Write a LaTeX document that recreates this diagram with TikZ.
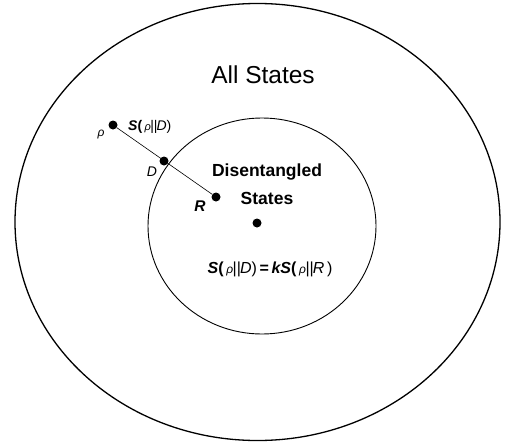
\documentclass[tikz,border=0pt]{standalone}
\usepackage{fontspec}
\setmainfont{Liberation Sans}
\usetikzlibrary{shapes.geometric, positioning}

\begin{document}
\begin{tikzpicture}[x=1pt, y=-1pt,
  dot/.style={circle, fill=black, inner sep=0pt, minimum size=9pt},
  setline/.style={draw, ellipse, inner sep=0pt}]
  \useasboundingbox (0,0) rectangle (510,444);

  % Sets
  \node[setline, line width=1.3pt, minimum width=485pt, minimum height=437pt] (allset) at (257.5,222) {};
  \node[setline, line width=0.9pt, minimum width=228pt, minimum height=216pt] (disset) at (262,226) {};
  \node[font=\fontsize{24.5}{28}\selectfont] (alltxt) at (263,75) {All States};
  \node[font=\fontsize{17.5}{20}\selectfont\bfseries] (distxt) at (267,172) {Disentangled};
  \node[font=\fontsize{17.5}{20}\selectfont\bfseries] (statxt) at (267,198) {States};

  % States and distances
  \node[dot] (rho) at (113,125) {};
  \node[dot] (D) at (164,161) {};
  \node[dot] (R) at (216,197) {};
  \node[dot] (c) at (257,223) {};
  \draw[line width=0.6pt] (rho) -- (R);
  \node[font=\fontsize{12}{14}\selectfont\itshape] (rholbl) at (101,135) {ρ};
  \node[font=\fontsize{14}{16}\selectfont\itshape] (Dlbl) at (152,172) {D};
  \node[font=\fontsize{15.5}{18}\selectfont\bfseries\itshape] (Rlbl) at (200,206) {R};
  \node[font=\fontsize{14}{16}\selectfont, anchor=west, inner sep=0pt] (srd) at (128,127)
    {\textbf{\textit{S}(}\,{\fontsize{11}{13}\selectfont\itshape ρ}\kern-.5pt||\kern-1pt\textit{D})};
  \node[font=\fontsize{16}{18}\selectfont] (eq) at (270,269)
    {\textbf{\textit{S}(}\,{\fontsize{12}{14}\selectfont\itshape ρ}\kern-.5pt||\kern-1pt\textit{D})\,\textbf{=\,\textit{kS}(}\,{\fontsize{12}{14}\selectfont\itshape ρ}\kern-.5pt||\kern-1pt\textit{R}\,)};
\end{tikzpicture}
\end{document}
